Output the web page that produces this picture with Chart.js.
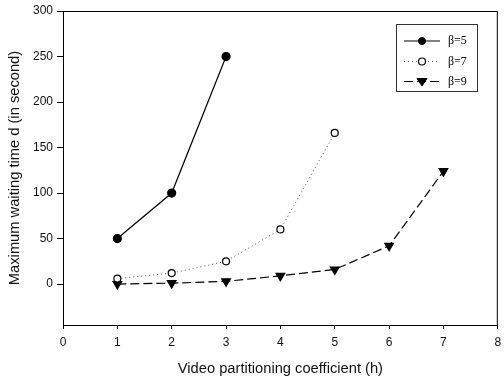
<!DOCTYPE html>
<html>
<head>
<meta charset="utf-8">
<script src="https://cdn.jsdelivr.net/npm/chart.js@4/dist/chart.umd.min.js"></script>
<style>
html,body{margin:0;padding:0;background:#fff;}
#wrap{width:504px;height:382px;}
</style>
</head>
<body>
<div id="wrap"><canvas id="c" width="504" height="382"></canvas></div>
<script>
const hValues = [1, 2, 3, 4, 5, 6, 7];
const beta5 = [50, 100, 250];
const beta7 = [6, 12, 25, 60, 166];
const beta9 = [0, 1, 3, 9, 16, 42, 124];
const seriesLabels = ['β=5', 'β=7', 'β=9'];
const xTicks = [0, 1, 2, 3, 4, 5, 6, 7, 8];
const yTicks = [0, 50, 100, 150, 200, 250, 300];

function pts(vals) { return vals.map((v, i) => ({x: hValues[i], y: v})); }

const datasets = [
  {label: seriesLabels[0], data: pts(beta5), borderColor: '#000', backgroundColor: '#000',
   borderWidth: 1.2, pointStyle: 'circle', pointRadius: 4, pointBackgroundColor: '#000', pointBorderColor: '#000'},
  {label: seriesLabels[1], data: pts(beta7), borderColor: '#555', backgroundColor: '#fff',
   borderWidth: 1, borderDash: [1, 3], pointStyle: 'circle', pointRadius: 3.5, pointBackgroundColor: '#fff', pointBorderColor: '#000', pointBorderWidth: 1.2},
  {label: seriesLabels[2], data: pts(beta9), borderColor: '#000', backgroundColor: '#000',
   borderWidth: 1.2, borderDash: [9, 4], pointStyle: 'triangle', rotation: 180, pointRadius: 5, pointBackgroundColor: '#000', pointBorderColor: '#000'}
];

const boxPlugin = {
  id: 'box',
  afterDatasetsDraw(chart) {
    const {ctx, chartArea: a} = chart;
    ctx.save();
    ctx.strokeStyle = '#000';
    ctx.lineWidth = 1;
    ctx.strokeRect(a.left + 0.5, a.top + 0.5, a.right - a.left - 1, a.bottom - a.top);
    // legend
    const bx = 396, by = 24, bw = 81, bh = 67;
    ctx.fillStyle = '#fff';
    ctx.fillRect(bx, by, bw, bh);
    ctx.strokeStyle = '#333';
    ctx.strokeRect(bx + 0.5, by + 0.5, bw, bh);
    const rows = [41, 61.5, 81.5];
    chart.data.datasets.forEach((ds, i) => {
      const y = rows[i];
      ctx.save();
      ctx.strokeStyle = ds.borderColor;
      ctx.lineWidth = ds.borderWidth;
      ctx.setLineDash(ds.borderDash || []);
      ctx.beginPath();
      ctx.moveTo(404, y); ctx.lineTo(440, y);
      ctx.stroke();
      ctx.restore();
      ctx.save();
      ctx.fillStyle = ds.pointBackgroundColor;
      ctx.strokeStyle = ds.pointBorderColor;
      ctx.lineWidth = ds.pointBorderWidth || 1;
      ctx.beginPath();
      if (ds.pointStyle === 'circle') {
        ctx.arc(422, y, 3.5, 0, Math.PI * 2);
      } else {
        const r = ds.pointRadius;
        ctx.moveTo(422 - r, y - r * 0.6);
        ctx.lineTo(422 + r, y - r * 0.6);
        ctx.lineTo(422, y + r * 0.9);
        ctx.closePath();
      }
      ctx.fill(); ctx.stroke();
      ctx.restore();
      ctx.fillStyle = '#000';
      ctx.font = '12px "Liberation Serif", "DejaVu Serif", serif';
      ctx.textBaseline = 'middle';
      ctx.textAlign = 'left';
      ctx.fillText(ds.label, 448, y);
    });
    ctx.restore();
  }
};

const sans = '"Liberation Sans", Arial, sans-serif';
new Chart(document.getElementById('c'), {
  type: 'line',
  data: {datasets},
  options: {
    responsive: false,
    animation: false,
    layout: {padding: {top: 11, right: 4, left: 0, bottom: 0}},
    plugins: {legend: {display: false}, tooltip: {enabled: false}},
    scales: {
      x: {
        type: 'linear', min: 0, max: 8,
        afterBuildTicks(s) { s.ticks = xTicks.map(v => ({value: v})); },
        afterFit(s) { s.height = 57; s.paddingRight = 0; s.paddingLeft = 0; },
        grid: {display: true, drawOnChartArea: false, drawTicks: true, tickLength: 4, color: '#000'},
        border: {display: true, color: '#000', width: 1},
        ticks: {color: '#111', font: {family: sans, size: 12}, padding: 6},
        title: {display: true, text: 'Video partitioning coefficient (h)', color: '#111',
          font: {family: sans, size: 14.7}, padding: {top: 6}}
      },
      y: {
        type: 'linear', min: -45, max: 300,
        afterBuildTicks(s) { s.ticks = yTicks.map(v => ({value: v})); },
        afterFit(s) { s.width = 63; s.paddingTop = 0; s.paddingBottom = 0; },
        grid: {display: true, drawOnChartArea: false, drawTicks: true, tickLength: 6, color: '#000'},
        border: {display: true, color: '#000', width: 1},
        ticks: {color: '#111', font: {family: sans, size: 12}, padding: 4},
        title: {display: true, text: 'Maximum waiting time d (in second)', color: '#111',
          font: {family: sans, size: 14.7}, padding: {top: 6, bottom: 4}}
      }
    }
  },
  plugins: [boxPlugin]
});
</script>
</body>
</html>
